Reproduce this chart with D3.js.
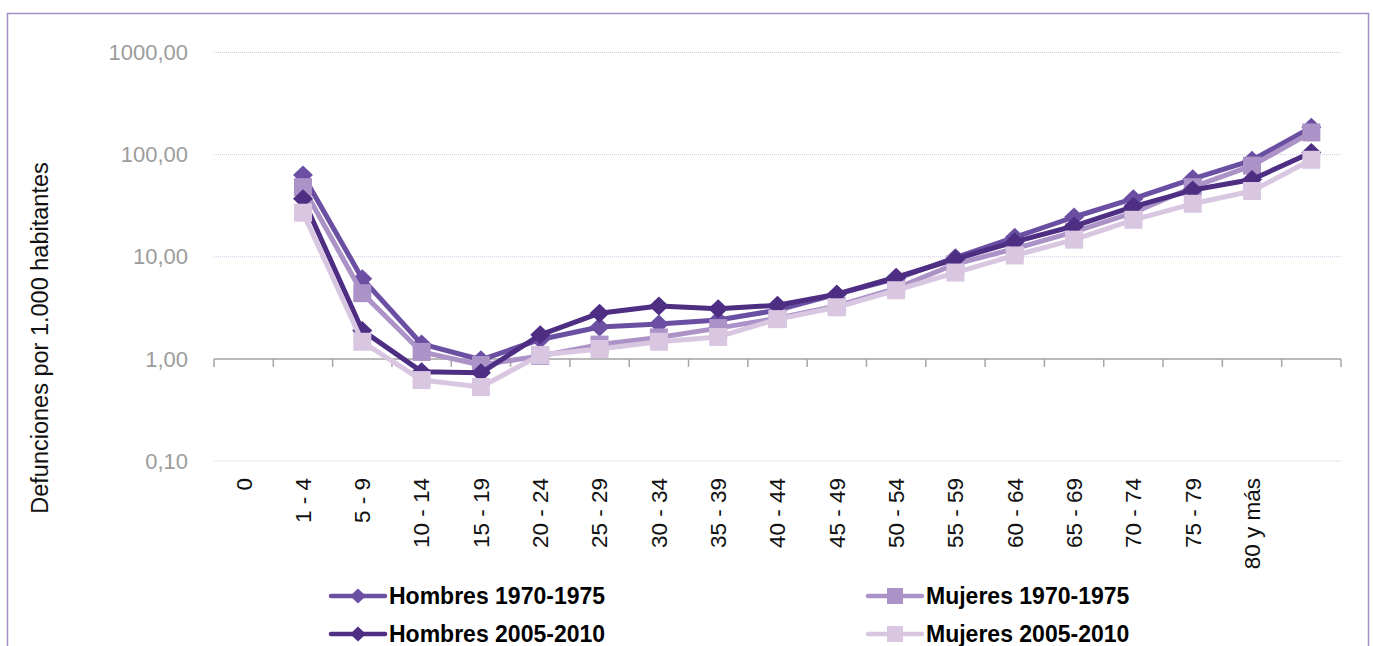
<!DOCTYPE html>
<html>
<head>
<meta charset="utf-8">
<script src="https://cdn.jsdelivr.net/npm/d3@7"></script>
<style>
  body { margin: 0; background: #fff; }
  svg { display: block; }
</style>
</head>
<body>
<div id="chart"></div>
<script>
// age groups (the last slot is empty, data is shifted one slot right as in the original)
const categories = ["0", "1 - 4", "5 - 9", "10 - 14", "15 - 19", "20 - 24", "25 - 29", "30 - 34",
  "35 - 39", "40 - 44", "45 - 49", "50 - 54", "55 - 59", "60 - 64", "65 - 69", "70 - 74",
  "75 - 79", "80 y más", ""];

const hombres7075 = [null, 63, 6.1, 1.4, 0.98, 1.55, 2.05, 2.2, 2.4, 3.0, 4.3, 6.1, 9.8, 15.5, 24.5, 37, 58, 88, 185];
const mujeres7075 = [null, 48, 4.4, 1.17, 0.87, 1.07, 1.38, 1.62, 2.0, 2.5, 3.3, 4.9, 8.5, 12, 17.5, 27, 48, 78, 165];
const hombres0510 = [null, 37, 1.9, 0.75, 0.73, 1.72, 2.8, 3.3, 3.1, 3.35, 4.3, 6.3, 9.5, 14, 20, 31, 45, 57, 105];
const mujeres0510 = [null, 27, 1.47, 0.62, 0.53, 1.09, 1.25, 1.47, 1.64, 2.45, 3.2, 4.7, 7.0, 10.3, 14.7, 23, 33, 44, 89];

const yTicks = [0.1, 1, 10, 100, 1000];

const series = [
  { name: "Hombres 1970-1975", values: hombres7075, color: "#6a4fa2", marker: "diamond" },
  { name: "Mujeres 1970-1975", values: mujeres7075, color: "#ab92c7", marker: "square" },
  { name: "Hombres 2005-2010", values: hombres0510, color: "#4d2e83", marker: "diamond" },
  { name: "Mujeres 2005-2010", values: mujeres0510, color: "#d9c7e2", marker: "square" }
];

const width = 1373, height = 646;
const font = "'Liberation Sans', Arial, sans-serif";

const svg = d3.select("#chart").append("svg")
    .attr("width", width)
    .attr("height", height);

// chart border
svg.append("rect")
    .attr("x", 7.5).attr("y", 13.5)
    .attr("width", 1361).attr("height", 660)
    .attr("fill", "none")
    .attr("stroke", "#a48fc3")
    .attr("stroke-width", 1.5);

const x = d3.scaleBand().domain(categories).range([214, 1341]).padding(0);
const y = d3.scaleLog().domain([0.1, 1000]).range([461, 52.5]);
const cx = d => x(d) + x.bandwidth() / 2;

// gridlines
svg.append("g").selectAll("line")
  .data(yTicks)
  .join("line")
    .attr("x1", 214).attr("x2", 1341)
    .attr("y1", d => y(d)).attr("y2", d => y(d))
    .attr("stroke", "#d6c8e4")
    .attr("stroke-width", 1)
    .attr("stroke-dasharray", "1,1");

// y tick labels
svg.append("g").selectAll("text")
  .data(yTicks)
  .join("text")
    .attr("x", 188)
    .attr("y", d => y(d))
    .attr("dy", "0.35em")
    .attr("text-anchor", "end")
    .style("font", `22px ${font}`)
    .attr("fill", "#9c9c9c")
    .text(d => d3.format(".2f")(d).replace(".", ","));

// x axis line crosses at 1
const axisY = y(1);
svg.append("line")
    .attr("x1", 214).attr("x2", 1341)
    .attr("y1", axisY).attr("y2", axisY)
    .attr("stroke", "#a6a6a6").attr("stroke-width", 1.5);

const tickPos = categories.map(c => x(c)).concat([x.range()[1]]);
svg.append("g").selectAll("line")
  .data(tickPos)
  .join("line")
    .attr("x1", d => d).attr("x2", d => d)
    .attr("y1", axisY).attr("y2", axisY + 8)
    .attr("stroke", "#a6a6a6").attr("stroke-width", 1.5);

// category labels, below the plot
svg.append("g").selectAll("text")
  .data(categories)
  .join("text")
    .attr("transform", d => `translate(${cx(d)},478) rotate(-90)`)
    .attr("dy", "0.35em")
    .attr("text-anchor", "end")
    .style("font", `22.5px ${font}`)
    .attr("fill", "#111")
    .text(d => d);

// y title
svg.append("text")
    .attr("transform", "translate(40,338) rotate(-90)")
    .attr("dy", "0.35em")
    .attr("text-anchor", "middle")
    .style("font", `23.5px ${font}`)
    .attr("fill", "#111")
    .text("Defunciones por 1.000 habitantes");

const diamond = (s) => `M0,${-s}L${s * 1.05},0L0,${s}L${-s * 1.05},0Z`;

function drawMarker(g, type, color, size) {
  if (type === "diamond") {
    g.append("path").attr("d", diamond(size)).attr("fill", color);
  } else {
    g.append("rect")
        .attr("x", -size).attr("y", -size)
        .attr("width", size * 2).attr("height", size * 2)
        .attr("fill", color);
  }
}

const line = d3.line()
    .defined(d => d.v != null)
    .x(d => cx(d.c))
    .y(d => y(d.v));

series.forEach(s => {
  const pts = categories.map((c, i) => ({ c: c, v: s.values[i] }));
  const g = svg.append("g");
  g.append("path")
      .datum(pts)
      .attr("d", line)
      .attr("fill", "none")
      .attr("stroke", s.color)
      .attr("stroke-width", 5)
      .attr("stroke-linejoin", "round");
  pts.filter(d => d.v != null).forEach(d => {
    const m = g.append("g").attr("transform", `translate(${cx(d.c)},${y(d.v)})`);
    drawMarker(m, s.marker, s.color, s.marker === "diamond" ? 9.5 : 9);
  });
});

// legend
const legendPos = [
  { x: 331, y: 596 }, { x: 868, y: 596 },
  { x: 331, y: 634 }, { x: 868, y: 634 }
];
series.forEach((s, i) => {
  const p = legendPos[i];
  const g = svg.append("g").attr("transform", `translate(${p.x},${p.y})`);
  g.append("line")
      .attr("x1", 0).attr("x2", 54)
      .attr("stroke", s.color).attr("stroke-width", 4.5)
      .attr("stroke-linecap", "round");
  const m = g.append("g").attr("transform", "translate(27,0)");
  drawMarker(m, s.marker, s.color, s.marker === "diamond" ? 7.5 : 8);
  g.append("text")
      .attr("x", 58)
      .attr("dy", "0.35em")
      .style("font", `bold 23px ${font}`)
      .attr("fill", "#000")
      .text(s.name);
});
</script>
</body>
</html>
